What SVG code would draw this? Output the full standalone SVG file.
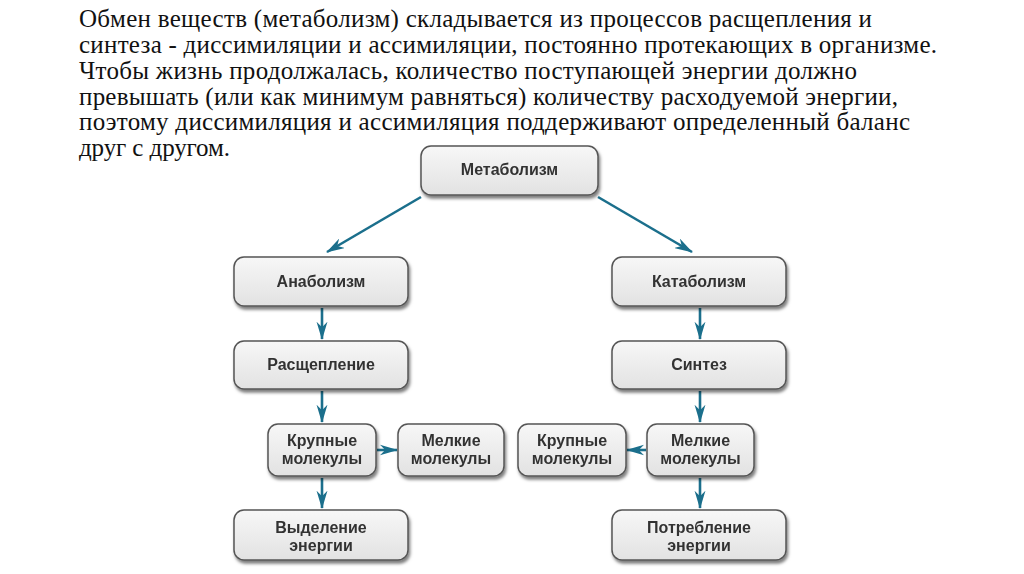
<svg xmlns="http://www.w3.org/2000/svg" width="1024" height="574" viewBox="0 0 1024 574">
<style>
.para{font-family:"Liberation Serif","Times New Roman",serif;font-size:25px;fill:#111}
.box{fill:url(#g);stroke:#555;stroke-width:1.5}
.lbl{font-family:"Liberation Sans",Arial,sans-serif;font-weight:bold;font-size:16px;fill:#333;text-anchor:middle}
.con{stroke:#1b6f8c;stroke-width:2.6;fill:none;marker-end:url(#ah)}
</style>
<defs>
<linearGradient id="g" x1="0" y1="0" x2="0" y2="1">
<stop offset="0" stop-color="#f7f7f7"/>
<stop offset="1" stop-color="#e2e2e2"/>
</linearGradient>
<filter id="sh" x="-10%" y="-10%" width="130%" height="140%">
<feDropShadow dx="1.5" dy="3" stdDeviation="1.5" flood-color="#000" flood-opacity="0.5"/>
</filter>
<marker id="ah" viewBox="0 0 20 12" refX="19" refY="6" markerWidth="7" markerHeight="4.4" orient="auto" markerUnits="strokeWidth">
<path d="M0,0 L20,6 L0,12 L6,6 Z" fill="#1b6f8c"/>
</marker>
</defs>
<rect width="1024" height="574" fill="#fff"/>
<g id="paragraph" class="para">
<text x="79" y="27" textLength="793" lengthAdjust="spacing">Обмен веществ (метаболизм) складывается из процессов расщепления и</text>
<text x="79" y="53" textLength="858" lengthAdjust="spacing">синтеза - диссимиляции и ассимиляции, постоянно протекающих в организме.</text>
<text x="79" y="79" textLength="778" lengthAdjust="spacing">Чтобы жизнь продолжалась, количество поступающей энергии должно</text>
<text x="79" y="105" textLength="819" lengthAdjust="spacing">превышать (или как минимум равняться) количеству расходуемой энергии,</text>
<text x="79" y="130" textLength="831" lengthAdjust="spacing">поэтому диссимиляция и ассимиляция поддерживают определенный баланс</text>
<text x="79" y="156" textLength="151" lengthAdjust="spacing">друг с другом.</text>
</g>
<g id="connectors">
<line class="con" x1="421" y1="197" x2="327" y2="252"/>
<line class="con" x1="598" y1="197" x2="692" y2="252"/>
<line class="con" x1="322" y1="308" x2="322" y2="339"/>
<line class="con" x1="700" y1="308" x2="700" y2="339"/>
<line class="con" x1="322" y1="391" x2="322" y2="422"/>
<line class="con" x1="700" y1="391" x2="700" y2="422"/>
<line class="con" x1="322" y1="478" x2="322" y2="508"/>
<line class="con" x1="700" y1="478" x2="700" y2="508"/>
<line class="con" x1="377" y1="450" x2="397" y2="450"/>
<line class="con" x1="646" y1="450" x2="627" y2="450"/>
</g>
<g id="metabolism" filter="url(#sh)">
<rect class="box" x="421" y="146" width="177" height="49" rx="10"/>
<text class="lbl" x="509.5" y="175">Метаболизм</text>
</g>
<g id="anabolism" filter="url(#sh)">
<rect class="box" x="234" y="257" width="174" height="49" rx="10"/>
<text class="lbl" x="321" y="287">Анаболизм</text>
</g>
<g id="catabolism" filter="url(#sh)">
<rect class="box" x="612" y="257" width="174" height="49" rx="10"/>
<text class="lbl" x="699" y="287">Катаболизм</text>
</g>
<g id="splitting" filter="url(#sh)">
<rect class="box" x="234" y="341" width="174" height="48" rx="10"/>
<text class="lbl" x="321" y="370">Расщепление</text>
</g>
<g id="synthesis" filter="url(#sh)">
<rect class="box" x="612" y="341" width="174" height="48" rx="10"/>
<text class="lbl" x="699" y="370">Синтез</text>
</g>
<g id="large-left" filter="url(#sh)">
<rect class="box" x="268" y="424" width="108" height="52" rx="10"/>
<text class="lbl" x="322" y="446">Крупные</text>
<text class="lbl" x="322" y="464">молекулы</text>
</g>
<g id="small-left" filter="url(#sh)">
<rect class="box" x="398" y="424" width="106" height="52" rx="10"/>
<text class="lbl" x="451" y="446">Мелкие</text>
<text class="lbl" x="451" y="464">молекулы</text>
</g>
<g id="large-right" filter="url(#sh)">
<rect class="box" x="518" y="424" width="108" height="52" rx="10"/>
<text class="lbl" x="572" y="446">Крупные</text>
<text class="lbl" x="572" y="464">молекулы</text>
</g>
<g id="small-right" filter="url(#sh)">
<rect class="box" x="647" y="424" width="107" height="52" rx="10"/>
<text class="lbl" x="700.5" y="446">Мелкие</text>
<text class="lbl" x="700.5" y="464">молекулы</text>
</g>
<g id="energy-release" filter="url(#sh)">
<rect class="box" x="234" y="510" width="174" height="50" rx="10"/>
<text class="lbl" x="321" y="533">Выделение</text>
<text class="lbl" x="321" y="551">энергии</text>
</g>
<g id="energy-consumption" filter="url(#sh)">
<rect class="box" x="612" y="510" width="174" height="50" rx="10"/>
<text class="lbl" x="699" y="533">Потребление</text>
<text class="lbl" x="699" y="551">энергии</text>
</g>
</svg>
